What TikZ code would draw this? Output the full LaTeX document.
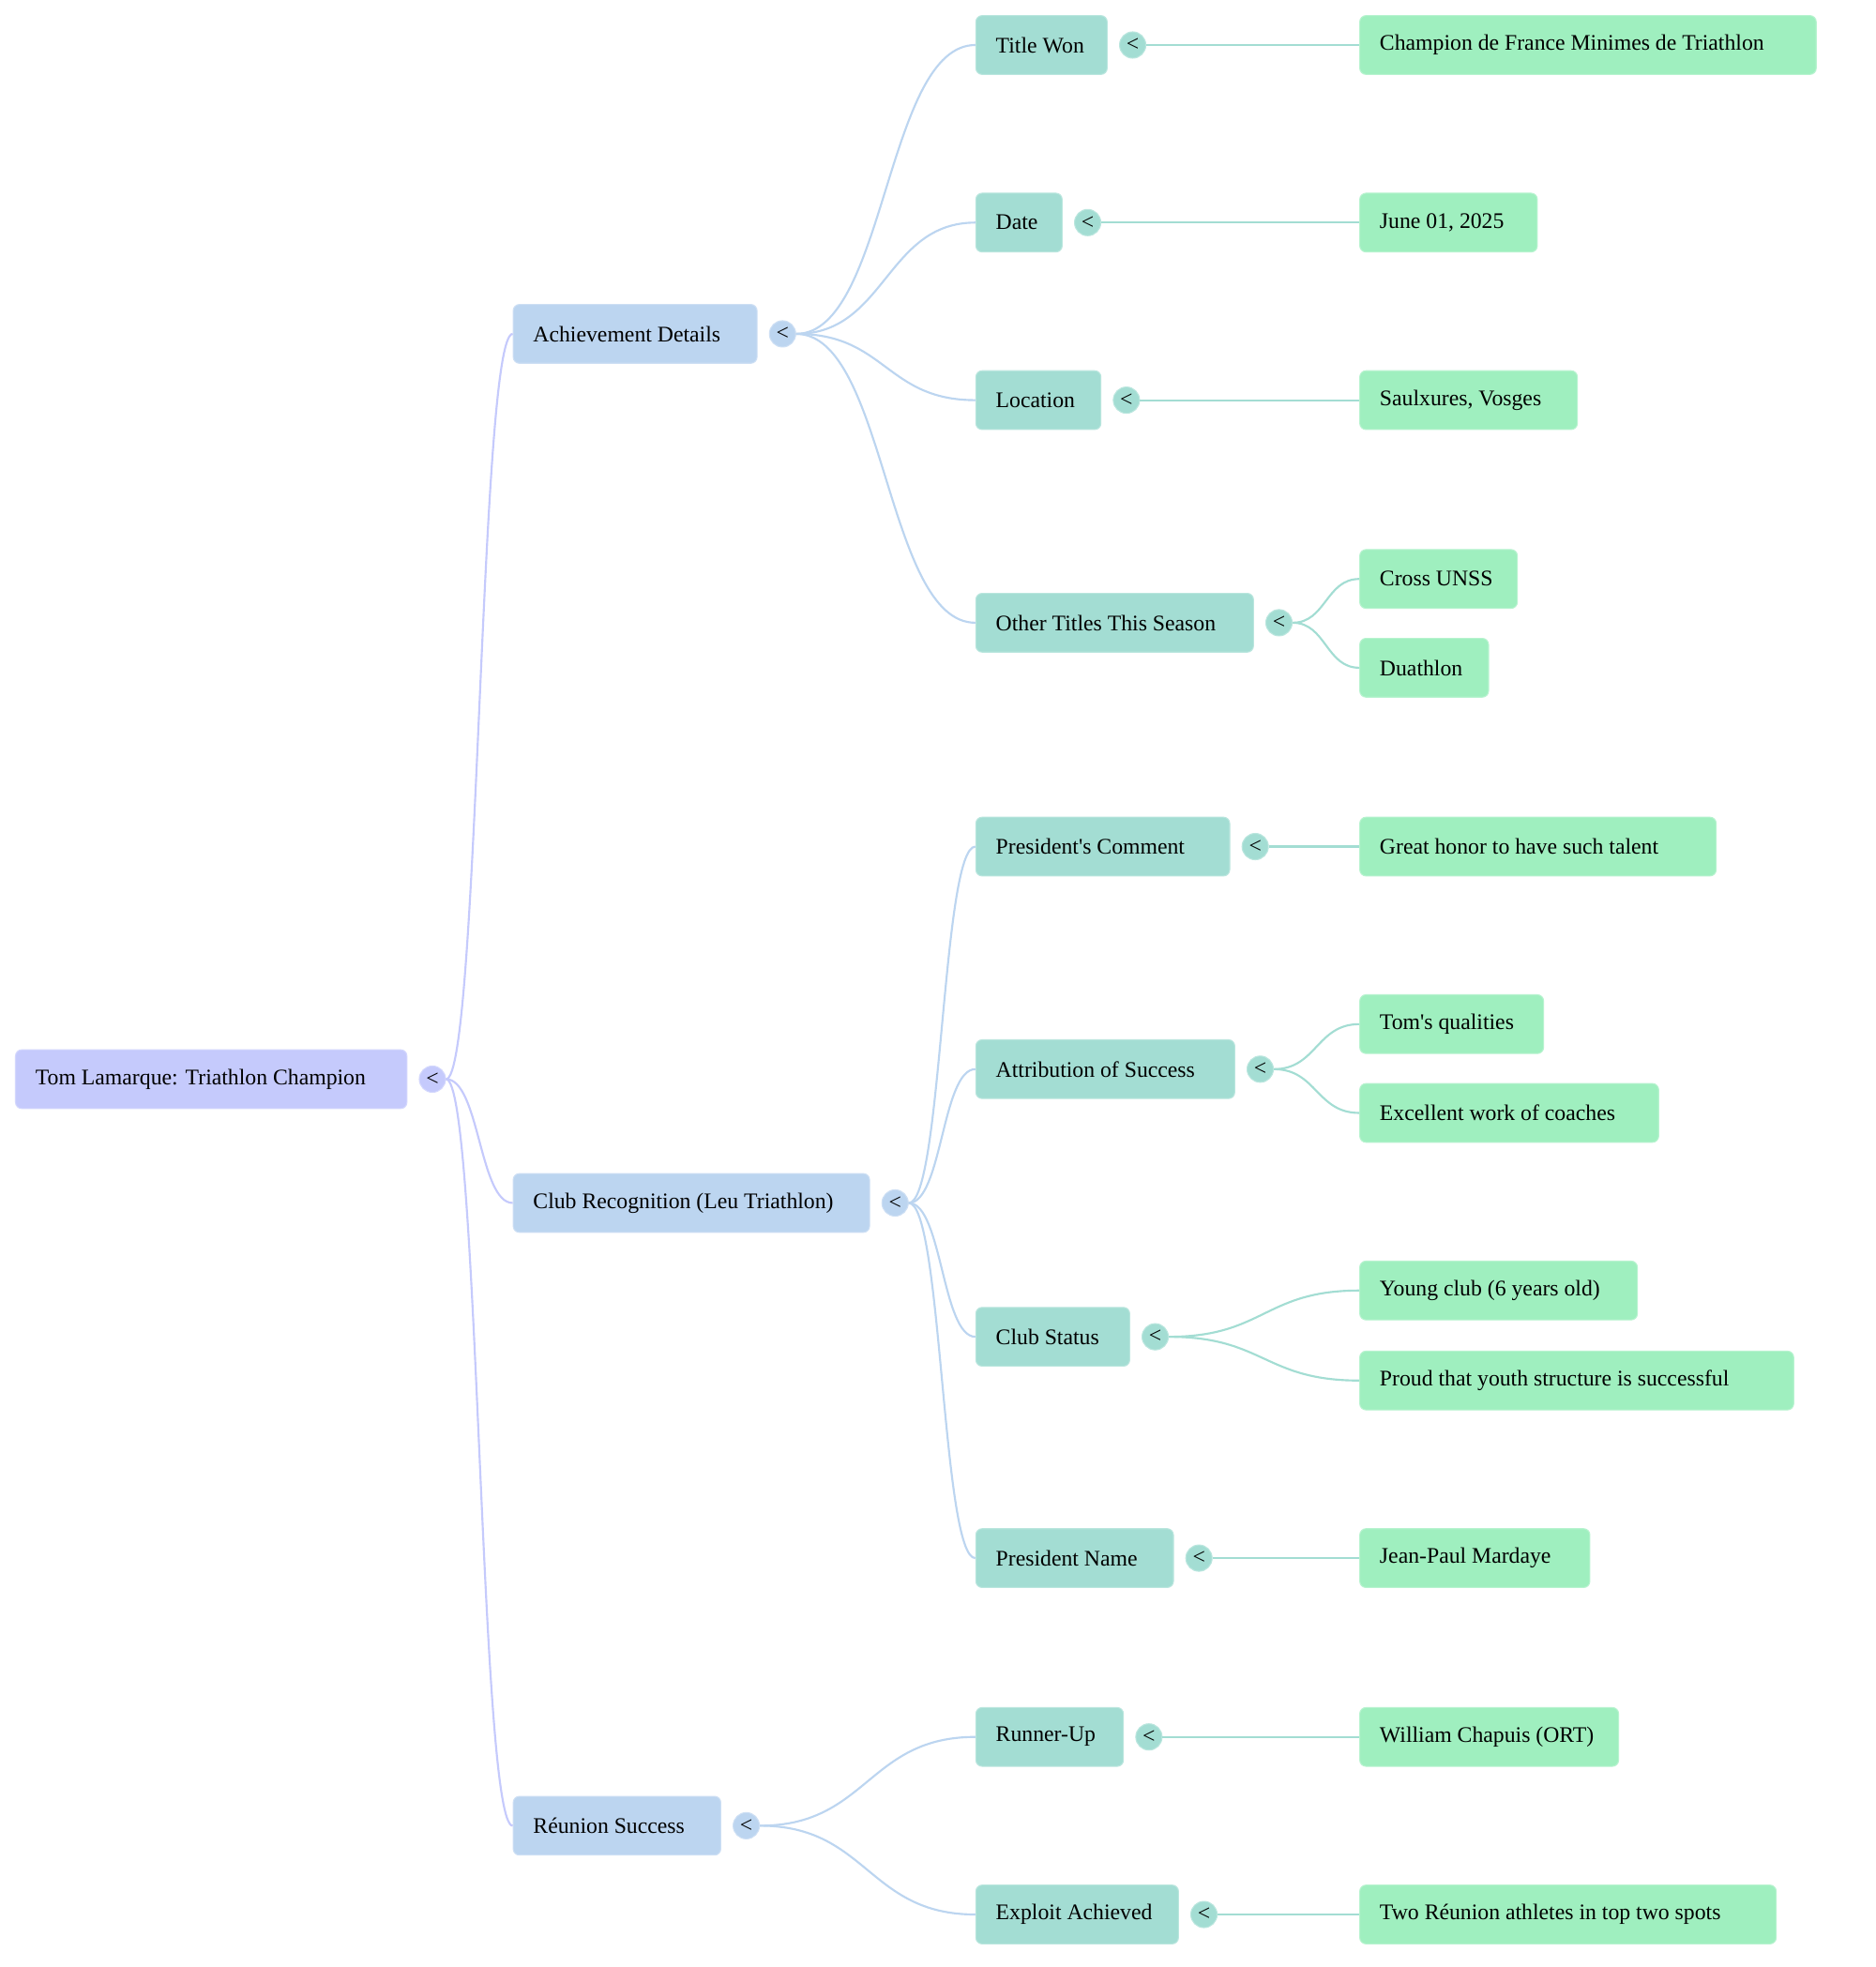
\documentclass[tikz,border=0pt]{standalone}
\usepackage{fontspec}
\setmainfont{Liberation Serif}
\usetikzlibrary{calc}
\definecolor{rootc}{HTML}{C5CAFC}
\definecolor{lvla}{HTML}{BCD5F0}
\definecolor{lvlb}{HTML}{A3DDD3}
\definecolor{lvlc}{HTML}{9FEFBF}
\tikzset{
  txt/.style={font=\fontsize{17.8}{21}\selectfont, text=black},
  box/.style={txt, rectangle, rounded corners=5pt, minimum height=47pt, inner xsep=16pt, inner ysep=0pt, anchor=west, line width=0.8pt},
  rootbox/.style={box, fill=rootc, draw=rootc!75!white},
  boxa/.style={box, fill=lvla, draw=lvla!75!white},
  boxb/.style={box, fill=lvlb, draw=lvlb!75!white},
  boxc/.style={box, fill=lvlc, draw=lvlc!75!white},
  knob/.style={txt, circle, minimum size=21pt, inner sep=0pt, line width=0.8pt},
  edge/.style={line width=1.6pt},
}
\newcommand\bx[6]{%
  \pgfmathsetmacro\tw{#4-#3-32}%
  \node[#1] (#2) at (#3,#5) {\makebox[\tw pt][l]{#6}};}
\newcommand\kn[2]{%
  \node[knob, fill=#1, draw=#1!75!white] (#2k) at ([xshift=20pt]#2.east) {<};}
\newcommand\conn[3]{%
  \coordinate (cA) at (#2.east);
  \coordinate (cB) at (#3.west);
  \coordinate (cM) at ($(cA)!0.5!(cB)$);
  \draw[edge, draw=#1] (cA) .. controls (cM |- cA) and (cM |- cB) .. (cB);}
\begin{document}
\begin{tikzpicture}[x=1pt,y=-1pt]
\useasboundingbox[fill=white] (0,0) rectangle (1500,1573);
% boxes
\bx{rootbox}{root}{12}{325}{863}{Tom Lamarque: Triathlon Champion}
\bx{boxa}{a}{410}{605}{267}{Achievement Details}
\bx{boxa}{b}{410}{695}{962}{Club Recognition (Leu Triathlon)}
\bx{boxa}{c}{410}{576}{1460}{Réunion Success}
\bx{boxb}{a1}{780}{885}{36}{Title Won}
\bx{boxb}{a2}{780}{849}{178}{Date}
\bx{boxb}{a3}{780}{880}{320}{Location}
\bx{boxb}{a4}{780}{1002}{498}{Other Titles This Season}
\bx{boxb}{b1}{780}{983}{677}{President\textquotesingle s Comment}
\bx{boxb}{b2}{780}{987}{855}{Attribution of Success}
\bx{boxb}{b3}{780}{903}{1069}{Club Status}
\bx{boxb}{b4}{780}{938}{1246}{President Name}
\bx{boxb}{c1}{780}{898}{1389}{Runner-Up}
\bx{boxb}{c2}{780}{942}{1531}{Exploit Achieved}
\bx{boxc}{a1x}{1087}{1452}{36}{Champion de France Minimes de Triathlon}
\bx{boxc}{a2x}{1087}{1229}{178}{June 01, 2025}
\bx{boxc}{a3x}{1087}{1261}{320}{Saulxures, Vosges}
\bx{boxc}{a4x}{1087}{1213}{463}{Cross UNSS}
\bx{boxc}{a4y}{1087}{1190}{534}{Duathlon}
\bx{boxc}{b1x}{1087}{1372}{677}{Great honor to have such talent}
\bx{boxc}{b2x}{1087}{1234}{819}{Tom\textquotesingle s qualities}
\bx{boxc}{b2y}{1087}{1326}{890}{Excellent work of coaches}
\bx{boxc}{b3x}{1087}{1309}{1032}{Young club (6 years old)}
\bx{boxc}{b3y}{1087}{1434}{1104}{Proud that youth structure is successful}
\bx{boxc}{b4x}{1087}{1271}{1246}{Jean-Paul Mardaye}
\bx{boxc}{c1x}{1087}{1294}{1389}{William Chapuis (ORT)}
\bx{boxc}{c2x}{1087}{1420}{1531}{Two Réunion athletes in top two spots}
% knobs
\kn{rootc}{root}
\kn{lvla}{a}
\kn{lvla}{b}
\kn{lvla}{c}
\kn{lvlb}{a1}
\kn{lvlb}{a2}
\kn{lvlb}{a3}
\kn{lvlb}{a4}
\kn{lvlb}{b1}
\kn{lvlb}{b2}
\kn{lvlb}{b3}
\kn{lvlb}{b4}
\kn{lvlb}{c1}
\kn{lvlb}{c2}
% connectors
\conn{rootc}{rootk}{a}
\conn{rootc}{rootk}{b}
\conn{rootc}{rootk}{c}
\conn{lvla}{ak}{a1}
\conn{lvla}{ak}{a2}
\conn{lvla}{ak}{a3}
\conn{lvla}{ak}{a4}
\conn{lvla}{bk}{b1}
\conn{lvla}{bk}{b2}
\conn{lvla}{bk}{b3}
\conn{lvla}{bk}{b4}
\conn{lvla}{ck}{c1}
\conn{lvla}{ck}{c2}
\conn{lvlb}{a1k}{a1x}
\conn{lvlb}{a2k}{a2x}
\conn{lvlb}{a3k}{a3x}
\conn{lvlb}{a4k}{a4x}
\conn{lvlb}{a4k}{a4y}
\conn{lvlb}{b1k}{b1x}
\conn{lvlb}{b2k}{b2x}
\conn{lvlb}{b2k}{b2y}
\conn{lvlb}{b3k}{b3x}
\conn{lvlb}{b3k}{b3y}
\conn{lvlb}{b4k}{b4x}
\conn{lvlb}{c1k}{c1x}
\conn{lvlb}{c2k}{c2x}
\end{tikzpicture}
\end{document}
